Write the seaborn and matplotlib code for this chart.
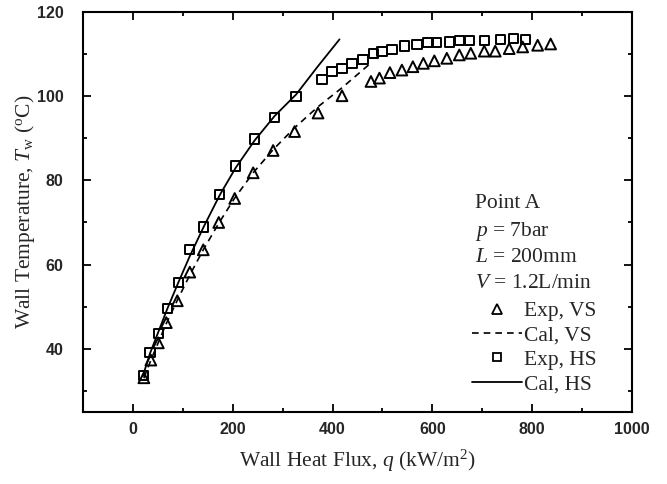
import numpy as np
import pandas as pd
import matplotlib
matplotlib.use("Agg")
import matplotlib.pyplot as plt
import seaborn as sns
from matplotlib.lines import Line2D
from matplotlib.ticker import MultipleLocator

# ---- data ----
exp_vs_q = [22, 36, 51, 67, 89, 114, 141, 172, 204, 241, 281, 324, 371, 419, 477, 494, 515, 539,
            561, 582, 604, 629, 654, 677, 704, 726, 754, 781, 811, 837]
exp_vs_t = [33.1, 37.3, 41.4, 46.2, 51.4, 58.2, 63.5, 70.0, 75.7, 81.8, 87.1, 91.6, 96.0, 100.1,
            103.5, 104.3, 105.6, 106.2, 107.0, 107.8, 108.4, 109.0, 109.8, 110.2, 110.7, 110.7,
            111.3, 111.7, 112.1, 112.4]

exp_hs_q = [21, 34, 51, 69, 92, 114, 142, 174, 206, 244, 284, 327, 379, 399, 419, 439, 461, 482,
            499, 519, 544, 569, 591, 609, 635, 655, 674, 704, 736, 762, 787]
exp_hs_t = [33.7, 39.1, 43.6, 49.5, 55.8, 63.5, 68.9, 76.7, 83.4, 89.8, 95.0, 99.9, 103.9, 105.8,
            106.6, 107.8, 108.7, 110.2, 110.6, 111.1, 111.9, 112.3, 112.7, 112.7, 112.9, 113.3,
            113.3, 113.3, 113.5, 113.7, 113.5]

cal_vs_q = [22, 36, 51, 67, 89, 114, 141, 172, 204, 241, 281, 324, 371, 419, 474]
cal_vs_t = [33.0, 37.3, 41.5, 46.0, 51.5, 57.5, 63.5, 69.8, 75.8, 81.8, 87.3, 92.5, 97.5, 102.0, 107.6]

cal_hs_q = [20, 34, 51, 69, 92, 114, 142, 174, 206, 244, 284, 327, 370, 414]
cal_hs_t = [33.5, 38.8, 44.0, 49.5, 56.0, 62.0, 69.0, 76.5, 83.0, 89.5, 95.3, 100.4, 107.0, 113.5]

x_ticks = [0, 200, 400, 600, 800, 1000]
y_ticks = [40, 60, 80, 100, 120]
legend_labels = ["Exp, VS", "Cal, VS", "Exp, HS", "Cal, HS"]
info_lines = ["Point A", "$p$ = 7bar", "$L$ = 200mm", "$V$ = 1.2L/min"]

# ---- style ----
sns.set_theme(style="ticks")
plt.rcParams["font.family"] = ["Liberation Serif", "DejaVu Serif"]
plt.rcParams["mathtext.fontset"] = "custom"
plt.rcParams["mathtext.rm"] = "Liberation Serif"
plt.rcParams["mathtext.it"] = "Liberation Serif:italic"
plt.rcParams["mathtext.bf"] = "Liberation Serif:bold"

fig = plt.figure(figsize=(6.67, 4.84), dpi=100)
ax = fig.add_axes([0.1244, 0.149, 0.8231, 0.8262])

df_cal_vs = pd.DataFrame({"q": cal_vs_q, "T": cal_vs_t})
df_cal_hs = pd.DataFrame({"q": cal_hs_q, "T": cal_hs_t})
df_exp_vs = pd.DataFrame({"q": exp_vs_q, "T": exp_vs_t})
df_exp_hs = pd.DataFrame({"q": exp_hs_q, "T": exp_hs_t})

sns.lineplot(data=df_cal_vs, x="q", y="T", ax=ax, color="black", lw=1.2,
             linestyle=(0, (4, 3)), sort=False, estimator=None)
sns.lineplot(data=df_cal_hs, x="q", y="T", ax=ax, color="black", lw=1.3,
             sort=False, estimator=None)
sns.scatterplot(data=df_exp_vs, x="q", y="T", ax=ax, marker="^", s=60,
                facecolor="none", edgecolor="black", linewidth=1.4)
sns.scatterplot(data=df_exp_hs, x="q", y="T", ax=ax, marker="s", s=45,
                facecolor="none", edgecolor="black", linewidth=1.4)

ax.set_xlim(-100, 1000)
ax.set_ylim(25, 120)
tick_font = dict(fontfamily=["Liberation Sans", "DejaVu Sans"], fontweight="bold", fontsize=11.5)
ax.set_xticks(x_ticks, [str(v) for v in x_ticks], **tick_font)
ax.set_yticks(y_ticks, [str(v) for v in y_ticks], **tick_font)
ax.xaxis.set_minor_locator(MultipleLocator(100))
ax.yaxis.set_minor_locator(MultipleLocator(10))

ax.tick_params(which="both", direction="in", top=True, right=True, width=1.3, color="black")
ax.tick_params(which="major", length=6)
ax.tick_params(which="minor", length=3)
ax.tick_params(axis="x", which="major", pad=7)
ax.tick_params(axis="y", which="major", pad=14)
for sp in ax.spines.values():
    sp.set_linewidth(1.5)
    sp.set_color("black")

ax.set_xlabel("Wall Heat Flux, $q$ (kW/m$^2$)", fontsize=15.5, labelpad=8)
ax.set_ylabel("Wall Temperature, $T_{\\rm w}$ ($^{\\rm o}$C)", fontsize=15.5, labelpad=0)

# info text block
ys_px = [203, 232, 257, 283]
for line, ypx in zip(info_lines, ys_px):
    ax.text(475 / 667, 1 - ypx / 484, line, transform=fig.transFigure,
            fontsize=15.5, ha="left", va="center")

handles = [
    Line2D([], [], ls="none", marker="^", ms=6.5, mfc="none", mec="black", mew=1.3),
    Line2D([], [], ls=(0, (4, 3)), color="black", lw=1.2),
    Line2D([], [], ls="none", marker="s", ms=5.5, mfc="none", mec="black", mew=1.3),
    Line2D([], [], ls="-", color="black", lw=1.3),
]
leg = ax.legend(handles, legend_labels, loc="upper left",
                bbox_to_anchor=(472 / 667, 1 - 301 / 484), bbox_transform=fig.transFigure,
                frameon=False, fontsize=15.5, handlelength=2.3, handletextpad=0.1,
                labelspacing=0.2, borderpad=0, borderaxespad=0)

fig.savefig("out.png", dpi=100)
